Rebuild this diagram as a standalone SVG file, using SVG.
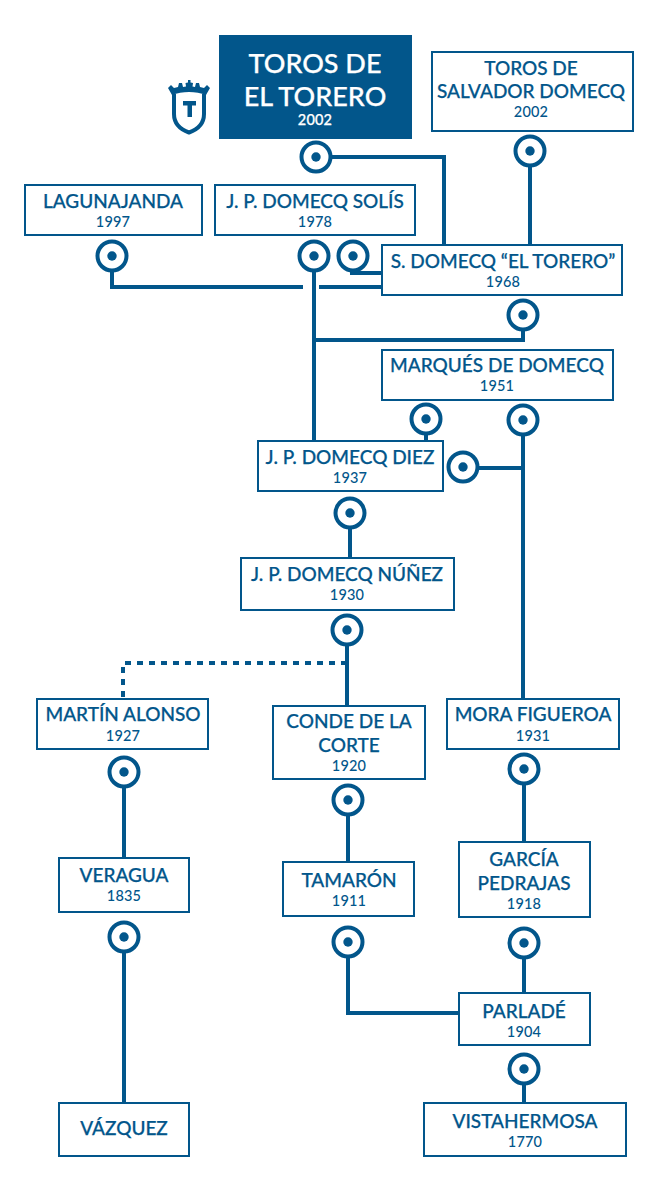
<svg xmlns="http://www.w3.org/2000/svg" width="656" height="1179" viewBox="0 0 656 1179">
<style>
.b{fill:#fff;stroke:#02568b;stroke-width:2}
.l{fill:none;stroke:#02568b;stroke-width:4}
.t{font-family:Lato,"Open Sans",sans-serif;font-weight:500;fill:#02568b;text-anchor:middle;font-size:19px;stroke:#02568b;stroke-width:.25}
.y{font-size:14.5px;stroke:none;font-weight:500;letter-spacing:.2px}
.h{font-size:27px}
.w{fill:#fff;stroke:#fff}
</style>
<defs><g id="d"><circle r="14.5" fill="#fff" stroke="#02568b" stroke-width="4"/><circle r="4.7" fill="#02568b"/></g></defs>
<rect width="656" height="1179" fill="#fff"/>
<g id="connectors">
<path class="l" d="M316 157H444V245M530 151V245M112 257V287H303M319 287H381M352 257V273H381M314 257V441M523 315V340H314M426 419V441M523 420V699M463 468H523M350 513V557M347 630V705M124 772V858M124 937V1102M348 800V861M524 769V842M524 943V993M348 942V1013H459M524 1069V1102"/>
<path class="l" d="M347 663H123V699" stroke-dasharray="6 6"/>
</g>
<g id="shield">
<path d="M174 94V114C174 125 182 130 189 132.500C196 130 204 125 204 114V94" fill="none" stroke="#02568b" stroke-width="4"/>
<path d="M168 88L171 85L174 88L178 87L179 83H182L183 87L186 86.500L185.500 83L188 82.500L188 80H190.500L190.500 82.500L193 83L192.500 86.500L195 87L196 83H199L200 87L204 88L207 85L210 88L206 95C196 91 182 91 172 95Z" fill="#02568b"/>
<path d="M183 101H196V105.500H192V117H187.500V105.500H183Z" fill="#02568b"/>
</g>
<g id="n-el-torero"><rect x="219" y="35" width="193" height="104" fill="#02568b"/><text class="t w h" x="315" y="73">TOROS DE</text><text class="t w h" x="315" y="106">EL TORERO</text><text class="t w y" x="315" y="125">2002</text></g>
<g id="n-salvador"><rect class="b" x="432" y="52" width="201" height="79"/><text class="t" x="531" y="75">TOROS DE</text><text class="t" x="531" y="98">SALVADOR DOMECQ</text><text class="t y" x="531" y="117">2002</text></g>
<g id="n-lagunajanda"><rect class="b" x="25" y="185" width="177" height="50"/><text class="t" x="113" y="208">LAGUNAJANDA</text><text class="t y" x="113" y="227">1997</text></g>
<g id="n-solis"><rect class="b" x="215" y="185" width="200" height="50"/><text class="t" x="315" y="208">J. P. DOMECQ SOLÍS</text><text class="t y" x="315" y="227">1978</text></g>
<g id="n-s-domecq"><rect class="b" x="382" y="245" width="240" height="50"/><text class="t" x="503" y="268">S. DOMECQ “EL TORERO”</text><text class="t y" x="503" y="287">1968</text></g>
<g id="n-marques"><rect class="b" x="382" y="350" width="231" height="50"/><text class="t" x="497" y="372">MARQUÉS DE DOMECQ</text><text class="t y" x="497" y="391">1951</text></g>
<g id="n-diez"><rect class="b" x="258" y="441" width="185" height="50"/><text class="t" x="350" y="464">J. P. DOMECQ DIEZ</text><text class="t y" x="350" y="483">1937</text></g>
<g id="n-nunez"><rect class="b" x="241" y="558" width="213" height="52"/><text class="t" x="347" y="581">J. P. DOMECQ NÚÑEZ</text><text class="t y" x="347" y="600">1930</text></g>
<g id="n-martin"><rect class="b" x="37" y="699" width="171" height="50"/><text class="t" x="123" y="721">MARTÍN ALONSO</text><text class="t y" x="123" y="741">1927</text></g>
<g id="n-conde"><rect class="b" x="273" y="706" width="152" height="73"/><text class="t" x="349" y="728">CONDE DE LA</text><text class="t" x="349" y="752">CORTE</text><text class="t y" x="349" y="771">1920</text></g>
<g id="n-mora"><rect class="b" x="447" y="699" width="172" height="50"/><text class="t" x="533" y="721">MORA FIGUEROA</text><text class="t y" x="533" y="741">1931</text></g>
<g id="n-veragua"><rect class="b" x="59" y="858" width="130" height="54"/><text class="t" x="124" y="882">VERAGUA</text><text class="t y" x="124" y="901">1835</text></g>
<g id="n-tamaron"><rect class="b" x="283" y="862" width="131" height="54"/><text class="t" x="349" y="887">TAMARÓN</text><text class="t y" x="349" y="906">1911</text></g>
<g id="n-garcia"><rect class="b" x="459" y="842" width="131" height="75"/><text class="t" x="524" y="866">GARCÍA</text><text class="t" x="524" y="890">PEDRAJAS</text><text class="t y" x="524" y="909">1918</text></g>
<g id="n-parlade"><rect class="b" x="459" y="993" width="131" height="52"/><text class="t" x="524" y="1018">PARLADÉ</text><text class="t y" x="524" y="1037">1904</text></g>
<g id="n-vazquez"><rect class="b" x="59" y="1103" width="130" height="53"/><text class="t" x="124" y="1135">VÁZQUEZ</text></g>
<g id="n-vistahermosa"><rect class="b" x="424" y="1103" width="202" height="53"/><text class="t" x="525" y="1128">VISTAHERMOSA</text><text class="t y" x="525" y="1147">1770</text></g>
<g id="dots">
<use href="#d" x="316" y="157"/><use href="#d" x="530" y="151"/><use href="#d" x="112" y="256"/><use href="#d" x="314" y="256"/><use href="#d" x="353" y="256"/><use href="#d" x="523" y="315"/><use href="#d" x="426" y="419"/><use href="#d" x="523" y="420"/><use href="#d" x="463" y="467"/><use href="#d" x="350" y="513"/><use href="#d" x="347" y="630"/><use href="#d" x="124" y="772"/><use href="#d" x="348" y="800"/><use href="#d" x="524" y="769"/><use href="#d" x="124" y="937"/><use href="#d" x="348" y="942"/><use href="#d" x="524" y="943"/><use href="#d" x="524" y="1069"/>
</g>
</svg>
